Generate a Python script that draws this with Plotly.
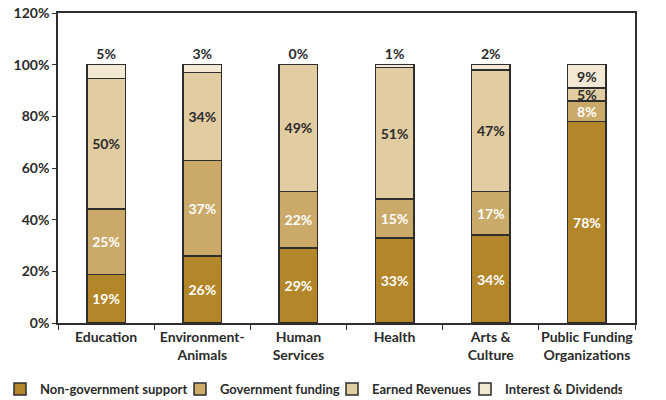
import plotly.graph_objects as go

categories = ["Education", "Environment-<br>Animals", "Human<br>Services", "Health", "Arts &<br>Culture", "Public Funding<br>Organizations"]
non_gov = [18.8, 26, 29, 33, 34, 78]
gov_funding = [25.4, 37, 22, 15, 17, 8]
earned = [50.4, 34, 49, 51, 47, 5]
interest = [5.4, 3, 0, 1, 2, 9]

series = [
    ("Non-government support", non_gov, "#B3862A", "white", 135),
    ("Government funding", gov_funding, "#CBA968", "white", 107),
    ("Earned Revenues", earned, "#E2CCA2", "#2b2b2b", 88),
    ("Interest & Dividends", interest, "#F2E8D4", "#2b2b2b", 112),
]

FONT = "Lato"
fig = go.Figure()
for i, (name, vals, color, tcol, lw) in enumerate(series):
    if i == 3:
        pos = ["outside"] * 5 + ["inside"]
    else:
        pos = "inside"
    fig.add_trace(go.Bar(
        x=categories, y=vals, name=name,
        marker=dict(color=color, line=dict(color="#2e2e2e", width=1.5)),
        texttemplate="%{y:.0f}%", textposition=pos,
        insidetextanchor="middle",
        insidetextfont=dict(color=tcol, size=14, family=FONT, weight="bold"),
        outsidetextfont=dict(color="#2b2b2b", size=14, family=FONT, weight="bold"),
        cliponaxis=False,
        width=0.4,
        legendwidth=lw,
    ))

fig.update_layout(
    barmode="stack",
    width=666, height=400,
    margin=dict(l=58, r=31, t=13, b=77, autoexpand=False),
    paper_bgcolor="white", plot_bgcolor="white",
    font=dict(family=FONT, size=14, color="#2b2b2b", weight="bold"),
    uniformtext=dict(minsize=13, mode="show"),
    showlegend=True,
    legend=dict(orientation="h", x=-58/577, xanchor="left", y=-0.213, yanchor="middle",
                font=dict(size=13, family=FONT, weight="bold"), traceorder="normal",
                itemwidth=30, tracegroupgap=0, borderwidth=0),
)
fig.update_xaxes(showline=True, linecolor="#2e2e2e", linewidth=1.5, mirror=True,
                 ticks="outside", tickson="boundaries", ticklen=5, tickcolor="#2e2e2e",
                 tickangle=0, automargin=False,
                 tickfont=dict(size=14, family=FONT, weight="bold"))
fig.update_yaxes(range=[0, 120], dtick=20, ticksuffix="%", showgrid=False, zeroline=False,
                 showline=True, linecolor="#2e2e2e", linewidth=1.5, mirror=True,
                 ticks="outside", ticklen=4, tickcolor="#2e2e2e", automargin=False,
                 ticklabeloverflow="allow",
                 tickfont=dict(size=14, family=FONT, weight="bold"))

# remove the browser's default 8px body margin so the 666x400 figure fills the window
fig.write_html("out.html", config={"displayModeBar": False},
               post_script="document.body.style.margin='0';")
